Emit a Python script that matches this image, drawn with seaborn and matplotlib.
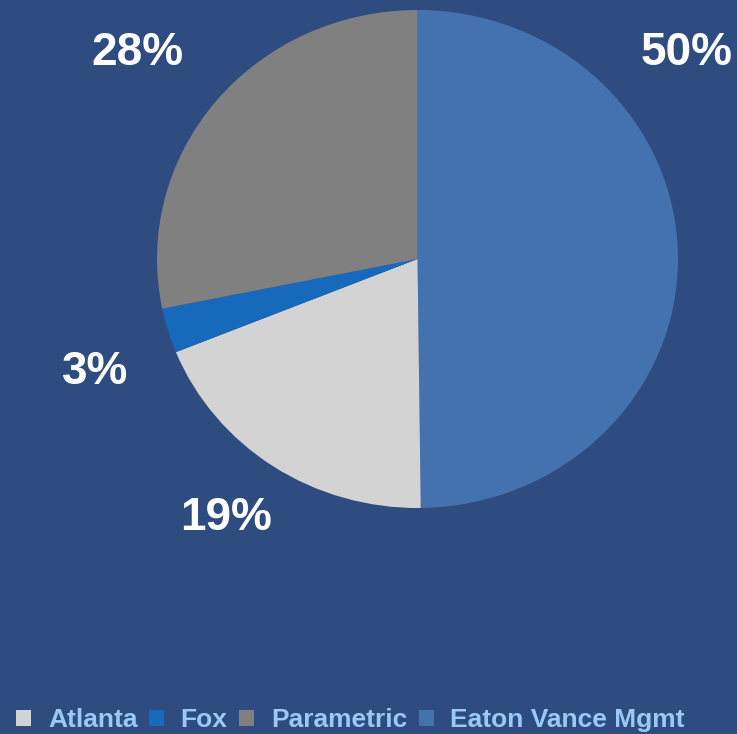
import matplotlib
matplotlib.use("Agg")
import matplotlib.pyplot as plt
import seaborn as sns
from matplotlib.patches import Patch

sns.set_theme(style="white")
plt.rcParams['font.family'] = ['Liberation Sans', 'DejaVu Sans']

# Data (clockwise from 12 o'clock)
labels = ["Eaton Vance Mgmt", "Atlanta", "Fox", "Parametric"]
values = [49.8, 19.1, 2.9, 28.2]
pct_text = ["50%", "19%", "3%", "28%"]
colors = ["#4472AE", "#D3D3D3", "#1769BB", "#808080"]
legend_order = ["Atlanta", "Fox", "Parametric", "Eaton Vance Mgmt"]

BG = "#2E4C80"
W, H = 737, 734
fig = plt.figure(figsize=(W / 100, H / 100), dpi=100, facecolor=BG)

ax = fig.add_axes([157 / W, (H - 508) / H, 521 / W, 498 / H])
ax.set_facecolor(BG)
wedges, _ = ax.pie(values, colors=colors, startangle=90, counterclock=False,
                   wedgeprops=dict(linewidth=0))
ax.set_aspect('auto')
ax.set_xlim(-1, 1)
ax.set_ylim(-1, 1)
ax.axis('off')

# percentage labels (figure pixel positions of label centers)
label_pos = [(687, 53), (226, 518), (95, 372), (137, 53)]
for (x, y), t in zip(label_pos, pct_text):
    fig.text(x / W, 1 - y / H, t, color="white", fontsize=33, fontweight="bold",
             ha="center", va="center")

cmap = dict(zip(labels, colors))
handles = [Patch(facecolor=cmap[l], edgecolor="none", label=l) for l in legend_order]
leg = fig.legend(handles=handles, loc="lower left", bbox_to_anchor=(0.008, -0.012),
                 ncol=4, frameon=False, fontsize=19, handlelength=0.57, handleheight=0.57,
                 handletextpad=0.62, columnspacing=0.45, borderaxespad=0)
for t in leg.get_texts():
    t.set_color("#9CC8F4")
    t.set_fontweight("bold")

fig.savefig("out.png", dpi=100, facecolor=BG)
